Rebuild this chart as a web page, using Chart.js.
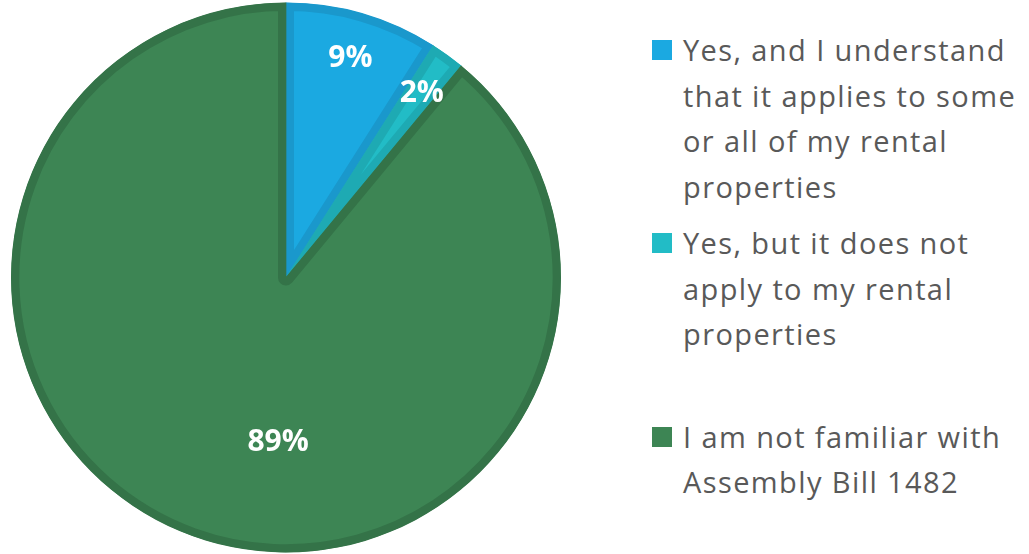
<!DOCTYPE html>
<html>
<head>
<meta charset="utf-8">
<script src="https://cdn.jsdelivr.net/npm/chart.js@4"></script>
<style>
  body { margin: 0; background: #fff; width: 1029px; height: 554px; overflow: hidden; position: relative; }
  #wrap { position: absolute; left: 0; top: 0; width: 572px; height: 554px; }
  #legend { position: absolute; left: 652px; top: 27px; font-family: "Open Sans", sans-serif; font-size: 29px; letter-spacing: 1.4px; color: #595959; }
  .item { position: relative; padding-left: 31px; line-height: 45.5px; white-space: nowrap; }
  .box { position: absolute; left: 0; top: 13px; width: 20px; height: 20px; }
</style>
</head>
<body>
<div id="wrap"><canvas id="myChart"></canvas></div>
<div id="legend"></div>
<script>
const labels = [
    ['Yes, and I understand', 'that it applies to some', 'or all of my rental', 'properties'],
    ['Yes, but it does not', 'apply to my rental', 'properties'],
    ['I am not familiar with', 'Assembly Bill 1482']
];
const values = [9, 2, 89];
const fillColors = ['#1ba9e1', '#22bcc6', '#3d8554'];
const edgeColors = ['#1a98cc', '#1eaab3', '#347348'];
const legendGaps = [0, 11, 57];

// etiquetas de porcentaje dentro de cada porcion
const pctLabels = {
    id: 'pctLabels',
    afterDatasetsDraw(chart) {
        const ctx = chart.ctx;
        const meta = chart.getDatasetMeta(0);
        const radFactor = [0.84, 0.84, 0.59];
        const angShift = [0, 0, -17];
        ctx.save();
        ctx.fillStyle = '#fff';
        ctx.font = 'bold 30px "Open Sans"';
        ctx.textAlign = 'center';
        ctx.textBaseline = 'middle';
        meta.data.forEach((arc, i) => {
            const p = arc.getProps(['x', 'y', 'startAngle', 'endAngle', 'outerRadius']);
            const a = (p.startAngle + p.endAngle) / 2 + angShift[i] * Math.PI / 180;
            const r = p.outerRadius * radFactor[i];
            ctx.fillText(values[i] + '%', p.x + Math.cos(a) * r, p.y + Math.sin(a) * r + 3);
        });
        ctx.restore();
    }
};

var ctx = document.getElementById('myChart').getContext('2d');
var chart = new Chart(ctx, {
    type: 'pie',
    data: {
        labels: labels,
        datasets: [{
            data: values,
            backgroundColor: fillColors,
            borderColor: edgeColors,
            borderWidth: 8,
            borderAlign: 'inner'
        }]
    },
    options: {
        responsive: true,
        maintainAspectRatio: false,
        animation: false,
        radius: 275,
        layout: { padding: { top: 1 } },
        plugins: {
            legend: { display: false },
            tooltip: { enabled: false }
        }
    },
    plugins: [pctLabels]
});

// leyenda en html
var legend = document.getElementById('legend');
for (let x in labels) {
    let div = document.createElement('div');
    div.className = 'item';
    div.style.marginTop = legendGaps[x] + 'px';
    div.innerHTML = '<span class="box" style="background:' + fillColors[x] + '"></span>' + labels[x].join('<br>');
    legend.appendChild(div);
}
</script>
</body>
</html>
